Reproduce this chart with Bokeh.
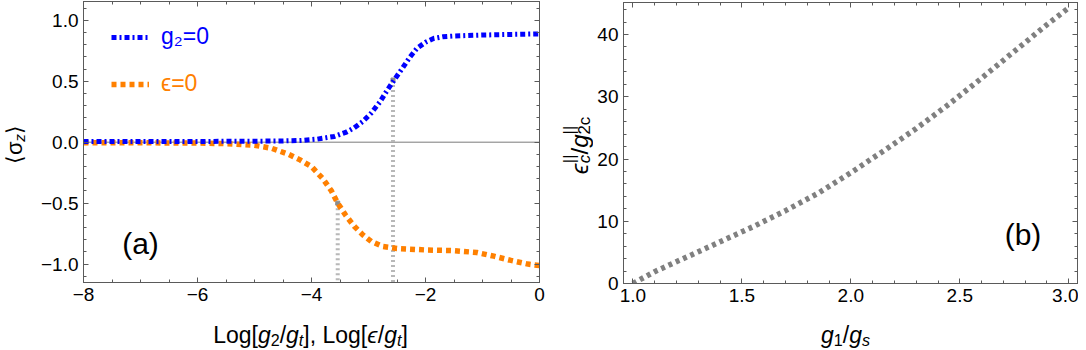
import numpy as np
from bokeh.plotting import figure
from bokeh.models import (Range1d, FixedTicker, LinearAxis, Label, Legend,
                          LegendItem, Span)
from bokeh.core.properties import value
from bokeh.layouts import row, column
from bokeh.embed import file_html
from bokeh.resources import INLINE

# ---------------- data ----------------
blue_x = [-8, -7, -6, -5, -4.5, -4.2, -3.9, -3.6, -3.4, -3.25, -3.1, -2.95,
          -2.8, -2.68, -2.55, -2.4, -2.27, -2.15, -2.0, -1.85, -1.7, -1.5,
          -1.0, -0.5, 0]
blue_y = [0.005, 0.005, 0.006, 0.008, 0.01, 0.014, 0.025, 0.047, 0.08, 0.118,
          0.17, 0.24, 0.33, 0.42, 0.51, 0.61, 0.70, 0.77, 0.82, 0.852, 0.864,
          0.871, 0.879, 0.884, 0.888]
orange_x = [-8, -7, -6, -5.5, -5.0, -4.7, -4.4, -4.2, -4.0, -3.8, -3.65, -3.54,
            -3.4, -3.25, -3.1, -2.95, -2.75, -2.5, -2.0, -1.5, -1.1, -0.8,
            -0.5, -0.2, 0]
orange_y = [-0.004, -0.005, -0.007, -0.012, -0.025, -0.05, -0.1, -0.145, -0.2,
            -0.3, -0.4, -0.5, -0.6, -0.69, -0.76, -0.815, -0.855, -0.872,
            -0.884, -0.89, -0.905, -0.935, -0.97, -1.0, -1.012]
crit_x = [-3.54, -2.57]
crit_y = [-0.5, 0.51]

ratio_x = [1.0, 1.1, 1.25, 1.4, 1.55, 1.7, 1.85, 2.0, 2.15, 2.3, 2.45, 2.6,
           2.75, 2.9, 3.0]
ratio_y = [0.0, 1.9, 4.3, 6.7, 9.1, 11.7, 14.5, 17.8, 21.3, 24.9, 28.8, 33.0,
           37.3, 41.6, 44.3]

xa_ticks = [-8, -6, -4, -2, 0]
xa_labels = ["−8", "−6", "−4", "−2", "0"]
ya_ticks = [-1.0, -0.5, 0.0, 0.5, 1.0]
ya_labels = ["−1.0", "−0.5", "0.0", "0.5", "1.0"]
xb_ticks = [1.0, 1.5, 2.0, 2.5, 3.0]
xb_labels = ["1.0", "1.5", "2.0", "2.5", "3.0"]
yb_ticks = [0, 10, 20, 30, 40]
yb_labels = ["0", "10", "20", "30", "40"]

# ---------------- style ----------------
FONT = "Liberation Sans"
AX = "#5a5a5a"
BLUE = "#0000ff"
ORANGE = "#ff8000"

W = {'L': .556, 'o': .556, 'g': .556, '[': .278, ']': .278, '/': .278,
     ',': .278, ' ': .278, '2': .556, '1': .556, 't': .278, 's': .5,
     'c': .5, '|': .26, 'ϵ': .46, 'σ': .6, 'z': .5, '⟨': .39, '⟩': .39,
     '=': .584, '0': .556}

N = "normal"
I = "italic"
SUB = (0.7, -0.22)
SUP = (0.7, 0.42)
SHIFT = 6   # baseline correction observed for rendered text glyphs (px)


def tw(s, size):
    return sum(W.get(ch, .55) for ch in s) * size


def text_fig(fw, fh, left=0, right=0, top=0, bottom=0):
    """Blank figure whose frame has the same geometry as its neighbour."""
    f = figure(frame_width=fw, frame_height=fh, x_range=Range1d(0, fw),
               y_range=Range1d(0, fh), min_border_left=left,
               min_border_right=right, min_border_top=top,
               min_border_bottom=bottom, title=None,
               toolbar_location=None, output_backend="svg",
               x_axis_location=None, y_axis_location=None,
               background_fill_color="white", border_fill_color="white")
    f.grid.visible = False
    f.outline_line_color = None
    return f


def rich(f, groups, x, y, base, angle=0.0, color="black"):
    """Centred run of text pieces (sub/superscripts), frame pixel coords."""
    advs = [max(tw(t, base * sc) for t, st, sc, dy in g) for g in groups]
    cur = -sum(advs) / 2.0
    for g, a in zip(groups, advs):
        for t, st, sc, dy in g:
            d = dy * base
            if angle == 0:
                px, py = x + cur, y + d + SHIFT
            else:
                px, py = x - d - SHIFT, y + cur
            f.text(x=[px], y=[py], text=[t], angle=angle,
                   text_font=value(FONT),
                   text_font_size=value(f"{base * sc:.1f}px"),
                   text_font_style=value(st), text_color=color,
                   text_baseline=value("alphabetic"),
                   text_align=value("left"))
        cur += a


def tick_axis(ax, length):
    ax.axis_line_color = AX
    ax.major_tick_line_color = AX
    ax.minor_tick_line_color = AX
    ax.major_tick_in = 5
    ax.major_tick_out = 0
    ax.minor_tick_in = length
    ax.minor_tick_out = 0


def style_axes(p, xt, xl, xminor, yt, yl, yminor):
    bx = p.xaxis[0]
    by = p.yaxis[0]
    bx.ticker = FixedTicker(ticks=xt, minor_ticks=xminor)
    bx.major_label_overrides = dict(zip(xt, xl))
    by.ticker = FixedTicker(ticks=yt, minor_ticks=yminor)
    by.major_label_overrides = dict(zip(yt, yl))
    for ax in [bx, by]:
        tick_axis(ax, 3)
        ax.major_label_text_font = FONT
        ax.major_label_text_color = "black"
        ax.major_label_text_font_size = "19px"
        ax.major_label_standoff = 5
    for side, t, m in [("above", xt, xminor), ("right", yt, yminor)]:
        a1 = LinearAxis(ticker=FixedTicker(ticks=[], minor_ticks=list(t)))
        tick_axis(a1, 5)
        p.add_layout(a1, side)
        a2 = LinearAxis(ticker=FixedTicker(ticks=[], minor_ticks=list(m)))
        tick_axis(a2, 3)
        p.add_layout(a2, side)
    p.grid.visible = False
    p.outline_line_color = AX


FH = 281   # frame height of both panels

# ---------------- panel (a) ----------------
ya0, ya1 = -1.151, 1.154
pa = figure(frame_width=456, frame_height=FH, output_backend="svg",
            toolbar_location=None, title=None, x_range=Range1d(-8, 0),
            y_range=Range1d(ya0, ya1), min_border_left=55,
            min_border_right=20, min_border_top=1, min_border_bottom=40,
            background_fill_color="white", border_fill_color="white")
style_axes(pa, xa_ticks, xa_labels, list(np.arange(-8, 0.01, 0.5)),
           ya_ticks, ya_labels, list(np.round(np.arange(-1.1, 1.11, 0.1), 2)))

pa.add_layout(Span(location=0, dimension="width", line_color="#7a7a7a",
                   line_width=1, level="underlay"))
pa.segment(x0=crit_x, y0=crit_y, x1=crit_x, y1=[ya0] * len(crit_x),
           line_color="#b8b8b8", line_width=4, line_dash="2 3")
pa.scatter(crit_x, crit_y, marker="square", size=4, color="#8c8c8c")
r_or = pa.line(orange_x, orange_y, line_color=ORANGE, line_width=5.5,
               line_dash="5 4")
r_bl = pa.line(blue_x, blue_y, line_color=BLUE, line_width=5,
               line_dash="5 3 2 3")

for item, col, yloc in [(LegendItem(label=value("g₂=0"), renderers=[r_bl]),
                         BLUE, 232),
                        (LegendItem(label=value("ϵ=0"), renderers=[r_or]),
                         ORANGE, 185)]:
    lg = Legend(items=[item], location=(28, yloc), padding=0, margin=0,
                spacing=0, glyph_width=38, glyph_height=20,
                label_standoff=12, label_text_font=FONT,
                label_text_font_size="23px", label_text_color=col,
                background_fill_alpha=0, border_line_alpha=0)
    pa.add_layout(lg)

pa.add_layout(Label(x=-7.0, y=-0.83, text="(a)", text_font=FONT,
                    text_font_size="30px", text_align="center",
                    text_baseline="middle", text_color="black"))

# ---------------- panel (b) ----------------
xb0, xb1 = 0.957, 3.04
yb0, yb1 = 0.0, 45.15
pb = figure(frame_width=454, frame_height=FH, output_backend="svg",
            toolbar_location=None, title=None, x_range=Range1d(xb0, xb1),
            y_range=Range1d(yb0, yb1), min_border_left=30,
            min_border_right=1, min_border_top=2, min_border_bottom=39,
            background_fill_color="white", border_fill_color="white")
style_axes(pb, xb_ticks, xb_labels,
           list(np.round(np.arange(1.0, 3.01, 0.1), 2)),
           yb_ticks, yb_labels, list(np.arange(0, 45, 2)))

pb.line(ratio_x, ratio_y, line_color="#808080", line_width=5.5,
        line_dash="4 4")
pb.add_layout(Label(x=2.79, y=7.8, text="(b)", text_font=FONT,
                    text_font_size="30px", text_align="center",
                    text_baseline="middle", text_color="black"))

# ---------------- axis titles (rich text) ----------------
yla = text_fig(28, FH, top=1, bottom=40)
rich(yla, [[("⟨", N, 1, 0)], [("σ", N, 1, 0)], [("z", I, *SUB)],
           [("⟩", N, 1, 0)]], x=20, y=FH + 1 - 143, base=22,
     angle=np.pi / 2)

xla = text_fig(456, 28, left=55, right=20)
rich(xla, [[("Log[", N, 1, 0)], [("g", I, 1, 0)], [("2", N, *SUB)],
           [("/", N, 1, 0)], [("g", I, 1, 0)], [("t", I, *SUB)],
           [("], Log[", N, 1, 0)], [("ϵ", I, 1, 0)], [("/", N, 1, 0)],
           [("g", I, 1, 0)], [("t", I, *SUB)], [("]", N, 1, 0)]],
     x=227, y=10, base=23)

ylb = text_fig(34, FH, top=2, bottom=39)
rich(ylb, [[("ϵ", I, 1, 0)], [("c", I, *SUB), ("||", N, *SUP)],
           [("/", N, 1, 0)], [("g", I, 1, 0)],
           [("2c", N, *SUB), ("||", N, *SUP)]],
     x=26, y=FH + 2 - 145, base=24, angle=np.pi / 2)

xlb = text_fig(454, 28, left=30, right=1)
rich(xlb, [[("g", I, 1, 0)], [("1", N, *SUB)], [("/", N, 1, 0)],
           [("g", I, 1, 0)], [("s", I, *SUB)]], x=222, y=10, base=23)

layout = row(yla, column(pa, xla), ylb, column(pb, xlb))
open("out.html", "w").write(file_html(layout, INLINE))
